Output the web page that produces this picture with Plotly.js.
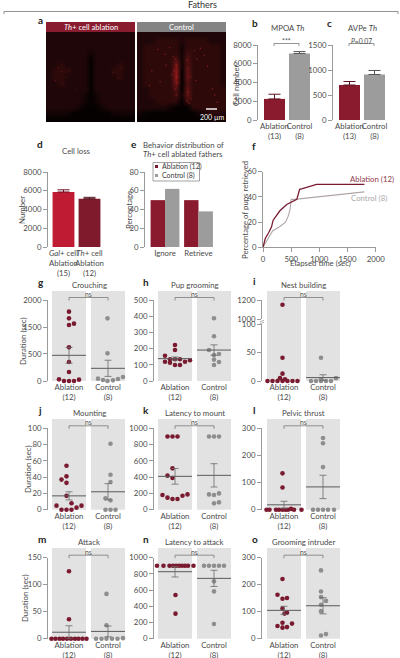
<!DOCTYPE html>
<html><head><meta charset="utf-8">
<script src="https://cdn.plot.ly/plotly-3.0.1.min.js"></script>
<style>html,body{margin:0;padding:0;background:#fff}#c{width:400px;height:658px}</style>
</head><body><div id="c"></div>
<script>
// ---------- DATA ----------
const heatAblation = [
[2,2,2,2,2,2,2,2,2,2,2,2,2,2,2],
[2,2,2,2,2,2,2,2,2,2,2,2,2,2,2],
[2,2,2,2,2,2,2,2,2,2,2,2,2,2,2],
[2,2,2,2,2,2,2,1,2,2,2,2,2,2,2],
[2,2,2,2,2,2,2,0,2,2,2,2,2,2,2],
[2,2,3,2,2,2,2,0,2,2,2,2,3,2,2],
[2,3,3,3,2,2,2,0,2,2,2,3,3,2,2],
[2,3,3,2,2,2,2,0,2,2,2,2,3,2,2],
[2,2,3,2,2,2,2,0,2,2,2,2,2,2,2],
[2,2,2,2,2,2,2,0,2,2,2,2,2,2,2],
[2,2,2,2,2,2,1,0,1,2,2,2,2,2,2],
[2,2,2,2,2,2,1,0,1,2,2,2,2,2,2],
[2,2,2,2,2,1,0,0,0,1,2,2,2,2,2],
[1,1,1,1,0,0,0,0,0,0,0,1,1,1,1],
[0,0,0,0,0,0,0,0,0,0,0,0,0,0,0]];
const heatControl = [
[2,2,2,2,2,2,2,2,2,2,2,2,2,2,2],
[2,2,2,3,3,3,3,2,3,3,3,3,2,2,2],
[2,3,3,3,3,3,3,1,3,3,3,3,3,3,2],
[2,3,3,3,3,3,3,1,4,3,3,3,3,3,2],
[2,3,3,3,3,3,5,1,5,3,3,3,3,3,2],
[2,3,3,3,3,3,7,1,5,3,3,3,3,3,2],
[2,3,3,3,3,3,8,0,6,3,3,3,3,3,2],
[2,3,3,3,3,3,8,0,6,3,3,3,3,3,2],
[2,3,3,3,3,3,7,0,5,3,3,3,3,3,2],
[2,2,3,3,3,3,5,0,6,3,3,3,3,3,3],
[2,2,3,3,3,3,4,1,6,3,3,3,3,3,3],
[2,2,2,3,3,3,3,0,4,3,3,3,3,3,3],
[2,2,2,2,2,1,0,0,0,3,3,3,3,3,3],
[1,0,0,0,0,0,0,0,0,0,1,2,3,3,2],
[0,0,0,0,0,0,0,0,0,0,0,0,1,1,1]];
const speckAblationX = [1.5,2.2,2.9,1.1,3.4,2.5,10.8,11.6,12.3,4.4];
const speckAblationY = [5.4,6.1,7,7.6,5.8,8.3,6.3,7.2,5.5,9];
const speckControlX = [3,4.2,5,5.6,4.4,5.3,6,6.1,5.8,6.2,6.4,5.9,6.1,8,8.2,8.4,8.1,8.6,9.2,9.6,10.2,10.8,11.4,9.4,12.6,13,12.2,2,1.6,3.4,7.9,8.3];
const speckControlY = [2.4,3.2,2.1,3.6,5,6.6,4,5,6,7,8,9,10,4.2,5.6,7,9.5,10.6,2.6,4,2.2,3.4,5.2,7.6,10,11.2,9,6,8.4,7.8,11,11.4];

const bCategories = ['Ablation<br>(13)','Control<br>(8)'];
const cCategories = ['Ablation<br>(13)','Control<br>(8)'];
const dCategories = ['<i>Gal</i>+ cell<br>Ablation<br>(15)','<i>Th</i>+ cell<br>Ablation<br>(12)'];
const eCategories = ['Ignore','Retrieve'];
const bValues = [2250,7100];  const bErrors = [500,200];
const cValues = [700,910];    const cErrors = [70,80];
const dValues = [5870,5150];  const dErrors = [230,150];
const eAblation = [50,50];    const eControl = [62,38];
const fAblationT = [0,40,100,150,180,300,420,550,600,650,700,950,1800];
const fAblationP = [0,7,11.5,16,21.5,29,34,37,38,46,46.5,50,50];
const fControlT = [0,50,100,170,300,400,450,480,500,560,1800];
const fControlP = [0,4,8,13,16.5,20,25,30,38,38,44];

const groupLabels = ['Ablation<br>(12)','Control<br>(8)'];
const gAbl=[1712,1547,1383,1416,831,469,222,41,0,0,0,33], gAblS=[0,0,0,1,0,0,0,-2,-1,0,1,2];
const gCtl=[1547,683,58,25,0,16,49,99], gCtlS=[-.1,-.1,-2,-1,-.1,1,2,3];
const gMean=[634,313], gErr=[197,200];
const hAbl=[156,119,134,113,222,191,134,99,134,99,119,128], hAblS=[-2,-2,-1,-1,0,0,0,0,1,1,2,3];
const hCtl=[387,276,191,160,167,132,117,99], hCtlS=[0,0,-1,0,1,0,1,0];
const hMean=[138,191], hErr=[10,32];
const iAbl=[1150,41,13,5,0,0,0,0,3,0,0,0], iAblS=[-.3,-.3,-.3,-.8,-3.3,-2.3,-1.3,-.3,.2,.7,1.7,2.7];
const iCtl=[41,0,0,0,0,0,5,3], iCtlS=[-.4,-2.4,-1.4,-.4,.6,1.6,2.6,-.4];
const iCtlMean=6, iCtlErr=5;
const jAbl=[54,41,37,33,17,5,0,0,0,8,2.5,5], jAblS=[-.5,-.5,-1.5,-.5,-.5,-2.5,-1.5,-.5,.5,.5,1.5,2.5];
const jCtl=[81,43,34,14,11.5,0,0,0], jCtlS=[.5,.5,.5,-.5,.5,-.5,.5,1.5];
const jMean=[17,22], jErr=[5,10];
const kAbl=[900,900,900,508,418,389,180,148,131,131,172,188], kAblS=[-1.5,-.5,.5,-.5,-1.5,-.5,-2.5,-1.5,-.5,.5,1.5,2.5];
const kCtl=[900,900,900,188,180,200,78,90], kCtlS=[-1,0,1,-1,0,1,0,1];
const kMean=[410,422], kErr=[96,143];
const lAbl=[134,82,0,0,0,0,0,0,0,3,0,0], lAblS=[-.3,-.3,-3.5,-2.9,-1.6,-1,-.3,.3,.8,1.4,2,3.5];
const lCtl=[264,245,157,0,0,0,0,0], lCtlS=[0,0,0,-2,-1,0,1,2.2];
const lMean=[18,84], lErr=[13,43];
const mAbl=[125,36,0,0,0,0,0,0,0,0,0,0], mAblS=[0,0,-3.5,-2.7,-1.9,-1.2,-.4,.4,1.2,1.9,2.7,3.5];
const mCtl=[83,25,0,0,0,0,0,1], mCtlS=[-.3,-.3,-2.4,-1.3,-.3,.8,1.9,3];
const mMean=[12,13.5], mErr=[12,10];
const nAbl=[900,900,900,900,900,900,900,900,900,900,539,309], nAblS=[-3.6,-2.3,-1.1,-.4,.2,.8,1.4,2,2.6,3.7,.1,.1];
const nCtl=[900,900,900,900,900,708,584,181], nCtlS=[-2,-1,0,1,2,0,0,0];
const nMean=[827,745], nErr=[65,100];
const oAbl=[221,163,151,148,112,96,93,59,56,47,43,41], oAblS=[-.3,-1.3,.6,-.3,-.3,.6,.1,-.3,1.6,-1.3,.6,-.3];
const oCtl=[253,175,154,140,126,102,17,12], oCtlS=[-.4,-.4,-.4,.6,-.4,-.4,.6,-.4];
const oMean=[105,122], oErr=[15,30];

// ---------- STYLE ----------
const FONT='Lato, "Open Sans", sans-serif', TXT='#4a4a4a', AX='#9a9a9a';
const MAROON='#7a1a30', GREY='#8e8e8e', BAR_M='#8a1a2e', BAR_G='#9c9c9c', BG='#e2e2e2';
const FS=7.8;
const fx=p=>p/400, fy=p=>1-p/658;
const layout={width:400,height:658,margin:{l:0,r:0,t:0,b:0},paper_bgcolor:'#fff',plot_bgcolor:'rgba(0,0,0,0)',
  showlegend:false,barmode:'overlay',font:{family:FONT,size:FS,color:TXT},shapes:[],annotations:[]};
const traces=[]; let axN=0;
function note(x,y,text,o={}){layout.annotations.push(Object.assign({xref:'paper',yref:'paper',x:fx(x),y:fy(y),text,showarrow:false,xanchor:'center',yanchor:'middle',font:{family:FONT,size:FS,color:TXT}},o));}
function vnote(x,y,text){note(x,y,text,{textangle:-90});}
function letter(x,y,t){note(x,y,'<b>'+t+'</b>',{font:{family:FONT,size:10,color:'#222'}});}
function newAxes(){axN++;const s=axN===1?'':axN;return {xa:'xaxis'+s,ya:'yaxis'+s,x:'x'+s,y:'y'+s};}
function yAxis(top,bot,range,tickvals,ticktext,extra={}){return Object.assign({domain:[fy(bot),fy(top)],range,tickvals,ticktext:ticktext||tickvals.map(String),showline:true,linecolor:AX,linewidth:1,ticks:'outside',ticklen:4,tickcolor:AX,tickwidth:1,showgrid:false,zeroline:false,tickfont:{family:FONT,size:FS,color:TXT},fixedrange:true},extra);}
function xAxis(l,r,range,tickvals,ticktext,extra={}){return Object.assign({domain:[fx(l),fx(r)],range,tickvals,ticktext,tickangle:0,showline:false,ticks:'',showgrid:false,zeroline:false,tickfont:{family:FONT,size:FS,color:TXT},fixedrange:true},extra);}
function bracket(xr,pxA,pxB,yTop,yDrop,label,labY){
  const y0=fy(yTop),y1=fy(yTop+yDrop);
  layout.shapes.push({type:'path',xref:'paper',yref:'paper',path:`M${fx(pxA)},${y1} L${fx(pxA)},${y0} L${fx(pxB)},${y0} L${fx(pxB)},${y1}`,line:{color:'#7a7a7a',width:0.8}});
  note((pxA+pxB)/2,labY,label,{font:{family:FONT,size:6.8,color:TXT}});
}

// ---------- header ----------
note(203,5,'Fathers',{font:{family:FONT,size:9,color:'#333'}});
layout.shapes.push({type:'path',xref:'paper',yref:'paper',path:`M${fx(4)},${fy(14)} L${fx(4)},${fy(11.5)} L${fx(398)},${fy(11.5)} L${fx(398)},${fy(14)}`,line:{color:'#777',width:0.8}});

// ---------- panel a ----------
function micro(l,r,z,sx,sy,barColor,label,speck){
  const a=newAxes();
  layout[a.xa]={domain:[fx(l),fx(r)],range:[-.5,14.5],visible:false,fixedrange:true};
  layout[a.ya]={domain:[fy(122),fy(32)],range:[14.5,-.5],visible:false,fixedrange:true};
  traces.push({type:'heatmap',z,xaxis:a.x,yaxis:a.y,showscale:false,zmin:0,zmax:10,zsmooth:'best',colorscale:[[0,'#060101'],[.2,'#1f0608'],[.3,'#2e090a'],[.5,'#4c0f10'],[1,'#b81d1d']],hoverinfo:'skip'});
  traces.push({type:'scatter',mode:'markers',x:sx,y:sy,xaxis:a.x,yaxis:a.y,marker:{size:speck[0],color:'#a82826',opacity:speck[1]},hoverinfo:'skip'});
  layout.shapes.push({type:'rect',xref:'paper',yref:'paper',x0:fx(l),x1:fx(r),y0:fy(32),y1:fy(22),fillcolor:barColor,line:{width:0}});
  note((l+r)/2,27,label,{font:{family:FONT,size:7.6,color:'#fff'}});
}
micro(46,135,heatAblation,speckAblationX,speckAblationY,'#8a1c30','<i>Th</i>+ cell ablation',[1.2,.5]);
micro(137,226,heatControl,speckControlX,speckControlY,'#848484','Control',[1.4,.7]);
letter(40,20,'a');
layout.shapes.push({type:'line',xref:'paper',yref:'paper',x0:fx(206),x1:fx(217),y0:fy(109),y1:fy(109),line:{color:'#fff',width:1.4}});
note(212,116.5,'200 µm',{font:{family:FONT,size:7,color:'#fff'}});

// ---------- bars ----------
function barPanel(axisX,c0,unit,rightPx,top,bot,ymax,ticks,cats,vals,errs,colors,errColors){
  const a=newAxes();
  layout[a.xa]=xAxis(axisX,rightPx,[(axisX-c0)/unit,(rightPx-c0)/unit],[0,1],cats);
  layout[a.ya]=yAxis(top,bot,[0,ymax],ticks);
  vals.forEach((v,i)=>traces.push({type:'bar',x:[i],y:[v],width:[.84],xaxis:a.x,yaxis:a.y,marker:{color:colors[i],line:{width:0}},
    error_y:{type:'data',symmetric:false,array:[errs[i]],arrayminus:[0],color:errColors[i],thickness:1,width:6},hoverinfo:'skip'}));
  return a;
}
barPanel(258,274.5,25,311,45,120,8000,[0,2000,4000,6000,8000],bCategories,bValues,bErrors,[BAR_M,BAR_G],['#5a1424','#555']);
letter(255,23,'b'); note(287,28,'MPOA <i>Th</i>'); vnote(236,85,'Cell number');
bracket(null,274,299,43.5,2.5,'***',41);
barPanel(333,349.5,25,386,45,120,1500,[0,500,1000,1500],cCategories,cValues,cErrors,[BAR_M,BAR_G],['#5a1424','#555']);
letter(329,23,'c'); note(362,28,'AVPe <i>Th</i>');
bracket(null,349,374,43.5,2.5,'<i>P</i>=0.07',40.5);
barPanel(48,63.5,26,102,172,247,8000,[0,2000,4000,6000,8000],dCategories,dValues,dErrors,['#bf1c33','#7e1a2c'],['#6a1020','#4a1018']);
letter(40,144,'d'); note(76,151,'Cell loss'); vnote(22,210,'Number');

// e
{const a=newAxes();const unit=33.5,c0=165;
 layout[a.xa]=xAxis(145,214,[(145-c0)/unit,(214-c0)/unit],[0,1],eCategories);
 layout[a.ya]=yAxis(172,247,[0,80],[0,20,40,60,80]);
 traces.push({type:'bar',name:'Ablation (12)',x:[0,1],y:eAblation,width:[.43,.43],offset:[-.43,-.43],xaxis:a.x,yaxis:a.y,marker:{color:BAR_M},hoverinfo:'skip'});
 traces.push({type:'bar',name:'Control (8)',x:[0,1],y:eControl,width:[.43,.43],offset:[0,0],xaxis:a.x,yaxis:a.y,marker:{color:BAR_G},hoverinfo:'skip'});
 layout.shapes.push({type:'rect',xref:'paper',yref:'paper',x0:fx(153),x1:fx(199.5),y0:fy(181),y1:fy(162.5),fillcolor:'#fff',line:{color:'#8a8a8a',width:0.8}});
 layout.shapes.push({type:'rect',xref:'paper',yref:'paper',x0:fx(155),x1:fx(158),y0:fy(168),y1:fy(165),fillcolor:MAROON,line:{width:0}});
 layout.shapes.push({type:'rect',xref:'paper',yref:'paper',x0:fx(155),x1:fx(158),y0:fy(177),y1:fy(174),fillcolor:BAR_G,line:{width:0}});
 note(159.5,171,'Ablation (12)<br>Control (8)',{xanchor:'left',align:'left',font:{family:FONT,size:7,color:'#3a3a3a'}});
 vnote(129,210,'Percentage');
}
letter(134,144,'e');
note(183,145,'Behavior distribution of'); note(183,154,'<i>Th</i>+ cell ablated fathers');

// f
{const a=newAxes();
 layout[a.xa]=xAxis(263,375.7,[0,2000],[0,500,1000,1500,2000],['0','500','1000','1500','2000'],{showline:true,linecolor:AX,ticks:'outside',ticklen:4,tickcolor:AX});
 layout[a.ya]=yAxis(171.7,247.3,[0,60],[0,20,40,60]);
 traces.push({type:'scatter',mode:'lines',name:'Control (8)',x:fControlT,y:fControlP,xaxis:a.x,yaxis:a.y,line:{color:'#b0a6a6',width:1.1},hoverinfo:'skip'});
 traces.push({type:'scatter',mode:'lines',name:'Ablation (12)',x:fAblationT,y:fAblationP,xaxis:a.x,yaxis:a.y,line:{color:'#7a1a30',width:1.3},hoverinfo:'skip'});
 note(372,179,'Ablation (12)',{font:{family:FONT,size:FS,color:'#8c3a4c'}});
 note(369,197.7,'Control (8)',{font:{family:FONT,size:FS,color:'#a9a9a9'}});
 vnote(245,210,'Percentage of pups retrieved');
 note(320,263,'Elapsed time (sec)');
}
letter(254,146,'f');

// ---------- scatter panels ----------
const SLOT=5/39;
function dots(a,c,vals,slots,color){traces.push({type:'scatter',mode:'markers',x:vals.map((_,i)=>c+slots[i]*SLOT),y:vals,xaxis:a.x,yaxis:a.y,cliponaxis:false,marker:{size:4.6,color},hoverinfo:'skip'});}
function meanErr(a,c,m,e){
  traces.push({type:'scatter',mode:'lines',x:[c-17/39,c+17/39],y:[m,m],xaxis:a.x,yaxis:a.y,line:{color:'#5a5a5a',width:1},hoverinfo:'skip'});
  traces.push({type:'scatter',mode:'markers',x:[c],y:[m],xaxis:a.x,yaxis:a.y,marker:{size:1,opacity:0},error_y:{type:'data',array:[e],color:'#6a6a6a',thickness:.8,width:3.5},hoverinfo:'skip'});
}
function frame(axisX,bgL,top,bot,bgTop){
  const c0=bgL+17,unit=39,right=bgL+73;
  const a=newAxes();
  layout[a.xa]=xAxis(axisX,right,[(axisX-c0)/unit,(right-c0)/unit],[0,1],groupLabels);
  [[bgL,bgL+34],[bgL+39,bgL+73]].forEach(p=>layout.shapes.push({type:'rect',xref:'paper',yref:'paper',x0:fx(p[0]),x1:fx(p[1]),y0:fy(bot),y1:fy(bgTop),fillcolor:BG,line:{width:0},layer:'below'}));
  bracket(null,c0,c0+39,top-2.5,3,'ns',top-6);
  return a;
}
function panel(axisX,bgL,top,bot,bgTop,ymax,tickvals,ticktext,abl,ablS,ctl,ctlS,mean,err){
  const a=frame(axisX,bgL,top,bot,bgTop);
  layout[a.ya]=yAxis(top,bot,[0,ymax],tickvals,ticktext);
  dots(a,0,abl,ablS,MAROON); dots(a,1,ctl,ctlS,GREY);
  meanErr(a,0,mean[0],err[0]); meanErr(a,1,mean[1],err[1]);
}
const C1=[48,52],C2=[154,158],C3=[262,267];
panel(C1[0],C1[1],300,381,291,2000,[0,667,1333,2000],['0','500','1500','2000'],gAbl,gAblS,gCtl,gCtlS,gMean,gErr);
vnote(23,341,'Duration (sec)');
panel(C2[0],C2[1],300,381,291,500,[0,100,200,300,400,500],null,hAbl,hAblS,hCtl,hCtlS,hMean,hErr);
// i: broken axis
{const a=frame(C3[0],C3[1],300,381,291);
 layout[a.ya]=yAxis(324.3,381,[0,100],[0,50,100]);
 const s=axN+1; axN=s;
 layout['yaxis'+s]=yAxis(300,319,[1000,1200],[1000,1200],null,{anchor:a.x});
 const isTop=v=>v>100, u={x:a.x,y:'y'+s};
 const keep=(vals,slots,test)=>{const o={v:[],s:[]};vals.forEach((v,i)=>{if(test(v)){o.v.push(v);o.s.push(slots[i]);}});return o;};
 let p=keep(iAbl,iAblS,v=>!isTop(v)); dots(a,0,p.v,p.s,MAROON);
 p=keep(iAbl,iAblS,isTop); dots(u,0,p.v,p.s,MAROON);
 dots(a,1,iCtl,iCtlS,GREY);
 meanErr(a,1,iCtlMean,iCtlErr);
 [321,323].forEach(y=>layout.shapes.push({type:'line',xref:'paper',yref:'paper',x0:fx(260),x1:fx(264),y0:fy(y+.8),y1:fy(y-.8),line:{color:AX,width:.8}}));
}
panel(C1[0],C1[1],428.3,509.7,419,100,[0,20,40,60,80,100],null,jAbl,jAblS,jCtl,jCtlS,jMean,jErr);
vnote(28,469,'Duration (sec)');
panel(C2[0],C2[1],428.3,509.7,419,1000,[0,200,400,600,800,1000],null,kAbl,kAblS,kCtl,kCtlS,kMean,kErr);
panel(C3[0],C3[1],428.3,509.7,419,300,[0,100,200,300],null,lAbl,lAblS,lCtl,lCtlS,lMean,lErr);
panel(C1[0],C1[1],557.7,638.7,548,150,[0,50,100,150],null,mAbl,mAblS,mCtl,mCtlS,mMean,mErr);
vnote(25,598,'Duration (sec)');
panel(C2[0],C2[1],557.7,638.7,548,1000,[0,200,400,600,800,1000],null,nAbl,nAblS,nCtl,nCtlS,nMean,nErr);
panel(C3[0],C3[1],557.7,638.7,548,300,[0,100,200,300],null,oAbl,oAblS,oCtl,oCtlS,oMean,oErr);

[['g',41,282,'Crouching',89,284.5],['h',146,282,'Pup grooming',194.5,284.5],['i',254,281,'Nest building',303,284.5],
 ['j',40,410,'Mounting',89,413],['k',146,410,'Latency to mount',194.5,413],['l',254,410,'Pelvic thrust',303,413],
 ['m',42,539,'Attack',89,542],['n',146,539,'Latency to attack',194.5,542],['o',255,539,'Grooming intruder',303,542]]
 .forEach(r=>{letter(r[1],r[2],r[0]);note(r[4],r[5],r[3]);});

// each axis sits on its own partner, so axes do not all pile on the first subplot
Object.keys(layout).forEach(k=>{
  const m=k.match(/^(x|y)axis(\d*)$/); if(!m) return;
  if(!layout[k].anchor) layout[k].anchor=(m[1]==='x'?'y':'x')+m[2];
});

Plotly.newPlot('c',traces,layout,{displayModeBar:false,staticPlot:true});
</script></body></html>
